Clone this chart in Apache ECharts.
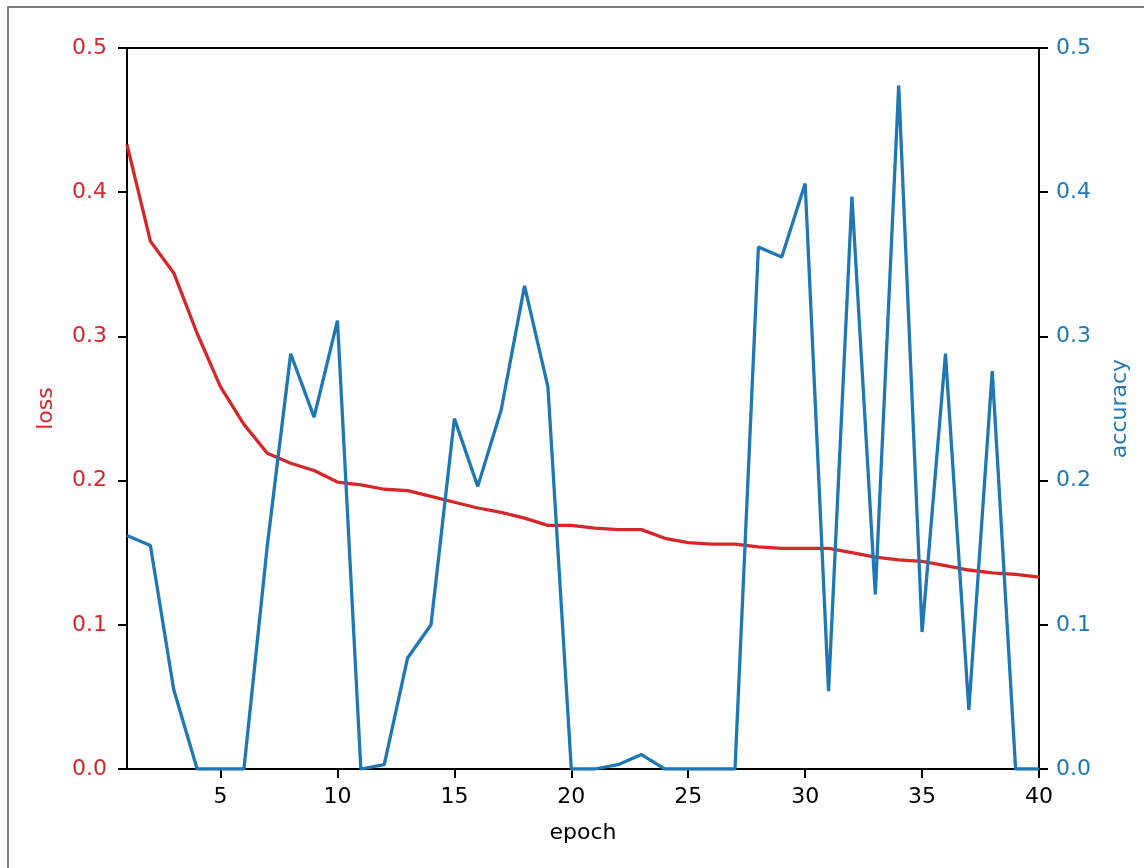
<!DOCTYPE html>
<html>
<head>
<meta charset="utf-8">
<script src="https://cdn.jsdelivr.net/npm/echarts@6/dist/echarts.min.js"></script>
<style>
  html, body { margin: 0; padding: 0; background: #fff; }
  #chart { width: 1144px; height: 868px; }
  .frame {
    position: absolute; left: 7px; top: 6px;
    width: 1200px; height: 900px;
    border: 2px solid #808080; pointer-events: none;
  }
</style>
</head>
<body>
<div id="chart"></div>
<div class="frame"></div>
<script>
const epochs = [1, 2, 3, 4, 5, 6, 7, 8, 9, 10, 11, 12, 13, 14, 15, 16, 17, 18, 19, 20,
  21, 22, 23, 24, 25, 26, 27, 28, 29, 30, 31, 32, 33, 34, 35, 36, 37, 38, 39, 40]

const loss = [0.433, 0.366, 0.344, 0.302, 0.265, 0.239, 0.219, 0.212, 0.207, 0.199,
  0.197, 0.194, 0.193, 0.189, 0.185, 0.181, 0.178, 0.174, 0.169, 0.169,
  0.167, 0.166, 0.166, 0.160, 0.157, 0.156, 0.156, 0.154, 0.153, 0.153,
  0.153, 0.150, 0.147, 0.145, 0.144, 0.141, 0.138, 0.136, 0.135, 0.133]

const accuracy = [0.162, 0.155, 0.055, 0, 0, 0, 0.155, 0.288, 0.244, 0.311,
  0, 0.003, 0.077, 0.100, 0.243, 0.196, 0.249, 0.335, 0.265, 0,
  0, 0.003, 0.010, 0, 0, 0, 0, 0.362, 0.355, 0.406,
  0.054, 0.397, 0.121, 0.474, 0.095, 0.288, 0.041, 0.276, 0, 0]

const xTicks = [5, 10, 15, 20, 25, 30, 35, 40]

const red = '#d62728'
const blue = '#1f77b4'
const font = 'DejaVu Sans'

const myChart = echarts.init(document.getElementById('chart'))

const yAxisBase = (color, position, name, margin) => ({
  type: 'value',
  position: position,
  min: 0,
  max: 0.5,
  interval: 0.1,
  name: name,
  nameLocation: 'middle',
  nameRotate: 90,
  nameGap: 70,
  nameTextStyle: { color: color, fontFamily: font, fontSize: 22 },
  axisLine: { show: true, lineStyle: { color: '#000', width: 2 } },
  axisTick: { show: true, length: 9, lineStyle: { color: '#000', width: 2 } },
  axisLabel: {
    color: color, fontFamily: font, fontSize: 22, margin: margin,
    formatter: v => v.toFixed(1)
  },
  splitLine: { show: false }
})

const options = {
  animation: false,
  grid: {
    left: 127, right: 105, top: 48, bottom: 99,
    show: true, borderColor: '#000', borderWidth: 2
  },
  xAxis: {
    type: 'value',
    min: 1,
    max: 40,
    name: 'epoch',
    nameLocation: 'middle',
    nameGap: 53,
    nameTextStyle: { color: '#000', fontFamily: font, fontSize: 22 },
    axisLine: { show: true, onZero: false, lineStyle: { color: '#000', width: 2 } },
    axisTick: { show: true, length: 9, customValues: xTicks, lineStyle: { color: '#000', width: 2 } },
    axisLabel: { color: '#000', fontFamily: font, fontSize: 22, margin: 17, customValues: xTicks },
    splitLine: { show: false }
  },
  yAxis: [
    yAxisBase(red, 'left', 'loss', 20),
    yAxisBase(blue, 'right', 'accuracy', 17)
  ],
  series: [
    {
      name: 'loss',
      type: 'line',
      yAxisIndex: 0,
      showSymbol: false,
      lineStyle: { color: red, width: 3.3 },
      data: epochs.map((e, i) => [e, loss[i]])
    },
    {
      name: 'accuracy',
      type: 'line',
      yAxisIndex: 1,
      showSymbol: false,
      lineStyle: { color: blue, width: 3.3 },
      data: epochs.map((e, i) => [e, accuracy[i]])
    }
  ]
}

myChart.setOption(options)
</script>
</body>
</html>
